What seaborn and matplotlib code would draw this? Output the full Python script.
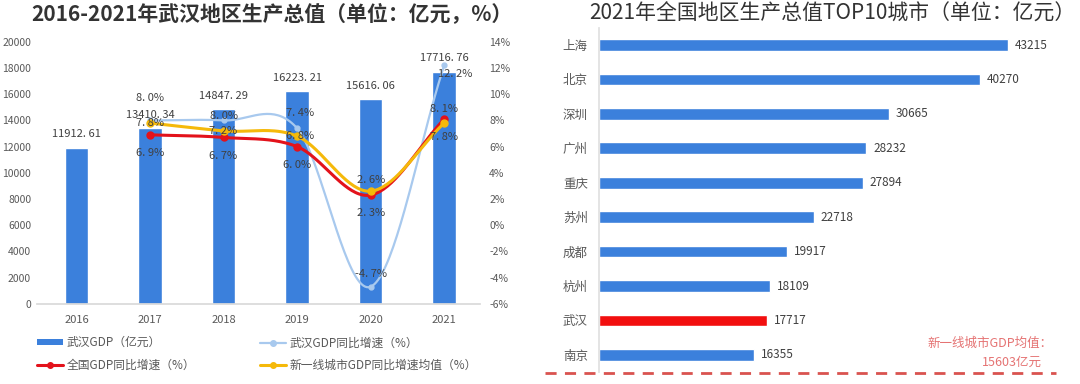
import numpy as np
import pandas as pd
import matplotlib
matplotlib.use("Agg")
import matplotlib.pyplot as plt
from matplotlib.lines import Line2D
from matplotlib.patches import Patch
import seaborn as sns

# ---------------- data ----------------
years = ["2016", "2017", "2018", "2019", "2020", "2021"]
wuhan_gdp = [11912.61, 13410.34, 14847.29, 16223.21, 15616.06, 17716.76]
growth_years = ["2017", "2018", "2019", "2020", "2021"]
wuhan_growth = [8.0, 8.0, 7.4, -4.7, 12.2]
national_growth = [6.9, 6.7, 6.0, 2.3, 8.1]
tier1_growth = [7.8, 7.2, 6.8, 2.6, 7.8]

cities = ["上海", "北京", "深圳", "广州", "重庆", "苏州", "成都", "杭州", "武汉", "南京"]
city_gdp = [43215, 40270, 30665, 28232, 27894, 22718, 19917, 18109, 17717, 16355]
tier1_mean = 15603

# ---------------- style ----------------
sns.set_theme(style="white")
plt.rcParams["font.family"] = ["Noto Sans CJK SC", "DejaVu Sans"]

BLUE = "#3b80dc"
LBLUE = "#a8c9ee"
RED = "#e3121b"
YEL = "#f5b90a"
TXT = "#404040"
TICK = "#595959"

fig = plt.figure(figsize=(10.8, 3.84), dpi=100)

# ================= left chart =================
ax = fig.add_axes([0.034, 0.209, 0.41, 0.682])
df_bar = pd.DataFrame({"year": years, "gdp": wuhan_gdp})
sns.barplot(data=df_bar, x="year", y="gdp", color=BLUE, width=0.32,
            saturation=1, ax=ax)
ax.set_xlim(-0.54, 5.48)
ax.set_ylim(0, 20000)
ax.set_yticks(np.arange(0, 20001, 2000))
ax.set_xlabel("")
ax.set_ylabel("")
for s in ["top", "left", "right"]:
    ax.spines[s].set_visible(False)
ax.spines["bottom"].set_color("#d9d9d9")
ax.tick_params(axis="both", length=0, labelsize=7.5, colors=TICK)
ax.tick_params(axis="x", pad=8, labelsize=8)
ax.tick_params(axis="y", pad=4)
for i, v in enumerate(wuhan_gdp):
    ax.annotate(f"{v:.2f}".replace(".", ". "), (i, v), xytext=(0, 6),
                textcoords="offset points", ha="center", va="bottom",
                fontsize=8, color=TXT)

ax2 = ax.twinx()
ax2.set_ylim(-6, 14)
ax2.set_yticks(np.arange(-6, 15, 2))
ax2.set_yticklabels([f"{t}%" for t in range(-6, 15, 2)])
for s in ["top", "left", "right", "bottom"]:
    ax2.spines[s].set_visible(False)
ax2.tick_params(axis="y", length=0, labelsize=7.5, colors=TICK, pad=7)
ax2.grid(False)
ax.grid(False)

gx = np.array([years.index(y) for y in growth_years], dtype=float)


def smooth(xs, ys, n=40):
    # Catmull-Rom rendering of a smoothed line through the data points
    P = np.column_stack([xs, ys]).astype(float)
    P = np.vstack([2 * P[0] - P[1], P, 2 * P[-1] - P[-2]])
    out = []
    t = np.linspace(0, 1, n)[:, None]
    for i in range(1, len(P) - 2):
        p0, p1, p2, p3 = P[i - 1], P[i], P[i + 1], P[i + 2]
        seg = 0.5 * (2 * p1 + (-p0 + p2) * t + (2 * p0 - 5 * p1 + 4 * p2 - p3) * t ** 2
                     + (-p0 + 3 * p1 - 3 * p2 + p3) * t ** 3)
        out.append(seg if i == 1 else seg[1:])
    out = np.vstack(out)
    return out[:, 0], out[:, 1]


series = [
    (wuhan_growth, LBLUE, 1.6, 3.5, [(0, 16), (0, 3), (2, 11), (0, 9), (8, -6)]),
    (national_growth, RED, 2.2, 5, [(0, -13), (0, -13), (0, -13), (0, -13), (0, 7)]),
    (tier1_growth, YEL, 2.2, 5, [(0, 0), (0, 0), (2, 0), (0, 8), (0, -10)]),
]
for vals, col, lw, ms, offs in series:
    sx, sy = smooth(gx, vals)
    sns.lineplot(x=sx, y=sy, sort=False, color=col, linewidth=lw, ax=ax2,
                 estimator=None)
    ax2.plot(gx, vals, "o", color=col, markersize=ms, zorder=5)
for vals, col, lw, ms, offs in series:
    for xi, v, (dx, dy) in zip(gx, vals, offs):
        ax2.annotate(f"{v:.1f}".replace(".", ". ") + "%", (xi, v), xytext=(dx, dy),
                     textcoords="offset points", ha="center", va="center",
                     fontsize=8, color=TXT, zorder=6)

handles = [
    Patch(facecolor=BLUE, edgecolor="none"),
    Line2D([], [], color=RED, lw=2.2, marker="o", markersize=4),
    Line2D([], [], color=LBLUE, lw=1.6, marker="o", markersize=4),
    Line2D([], [], color=YEL, lw=2.2, marker="o", markersize=4),
]
labels = ["武汉GDP（亿元）", "全国GDP同比增速（%）", "武汉GDP同比增速（%）",
          "新一线城市GDP同比增速均值（%）"]
leg = fig.legend(handles, labels, ncol=2, loc="center", bbox_to_anchor=(0.238, 0.078),
                 frameon=False, fontsize=8.5, handlelength=2.2, handleheight=0.45,
                 columnspacing=5.5, labelspacing=0.8, handletextpad=0.3)
for t in leg.get_texts():
    t.set_color(TICK)

fig.text(0.252, 0.965, "2016-2021年武汉地区生产总值（单位：亿元，%）", ha="center",
         va="center", fontsize=15, fontweight="semibold", color="#333333")

# ================= right chart =================
axr = fig.add_axes([0.5546, 0.031, 0.438, 0.8966])
df_city = pd.DataFrame({"city": cities, "gdp": city_gdp})
pal = {c: ("#f20f0f" if c == "武汉" else BLUE) for c in cities}
sns.barplot(data=df_city, y="city", x="gdp", hue="city", palette=pal, legend=False,
            width=0.34, saturation=1, orient="h", ax=axr)
axr.set_xlim(0, 50000)
axr.set_ylim(9.5, -0.5)
axr.set_xlabel("")
axr.set_ylabel("")
axr.set_xticks([])
for s in ["top", "right", "bottom"]:
    axr.spines[s].set_visible(False)
axr.spines["left"].set_color("#e0e0e0")
axr.tick_params(axis="y", length=0, labelsize=9, colors=TICK, pad=8)
for i, v in enumerate(city_gdp):
    axr.annotate(str(v), (v, i), xytext=(5, 0), textcoords="offset points",
                 ha="left", va="center", fontsize=8.5, color=TXT)

fig.text(0.7706, 0.965, "2021年全国地区生产总值TOP10城市（单位：亿元）", ha="center",
         va="center", fontsize=15, fontweight="medium", color="#333333")

fig.add_artist(Line2D([0.505, 0.978], [0.0294, 0.0294], transform=fig.transFigure,
                      color="#d9534f", lw=2, linestyle=(0, (4, 3))))
fig.text(0.917, 0.107, "新一线城市GDP均值：", ha="center", va="center",
         fontsize=9, color="#e57373")
fig.text(0.937, 0.057, f"{tier1_mean}亿元", ha="center", va="center",
         fontsize=9, color="#e57373")

fig.savefig("out.png", dpi=100)
